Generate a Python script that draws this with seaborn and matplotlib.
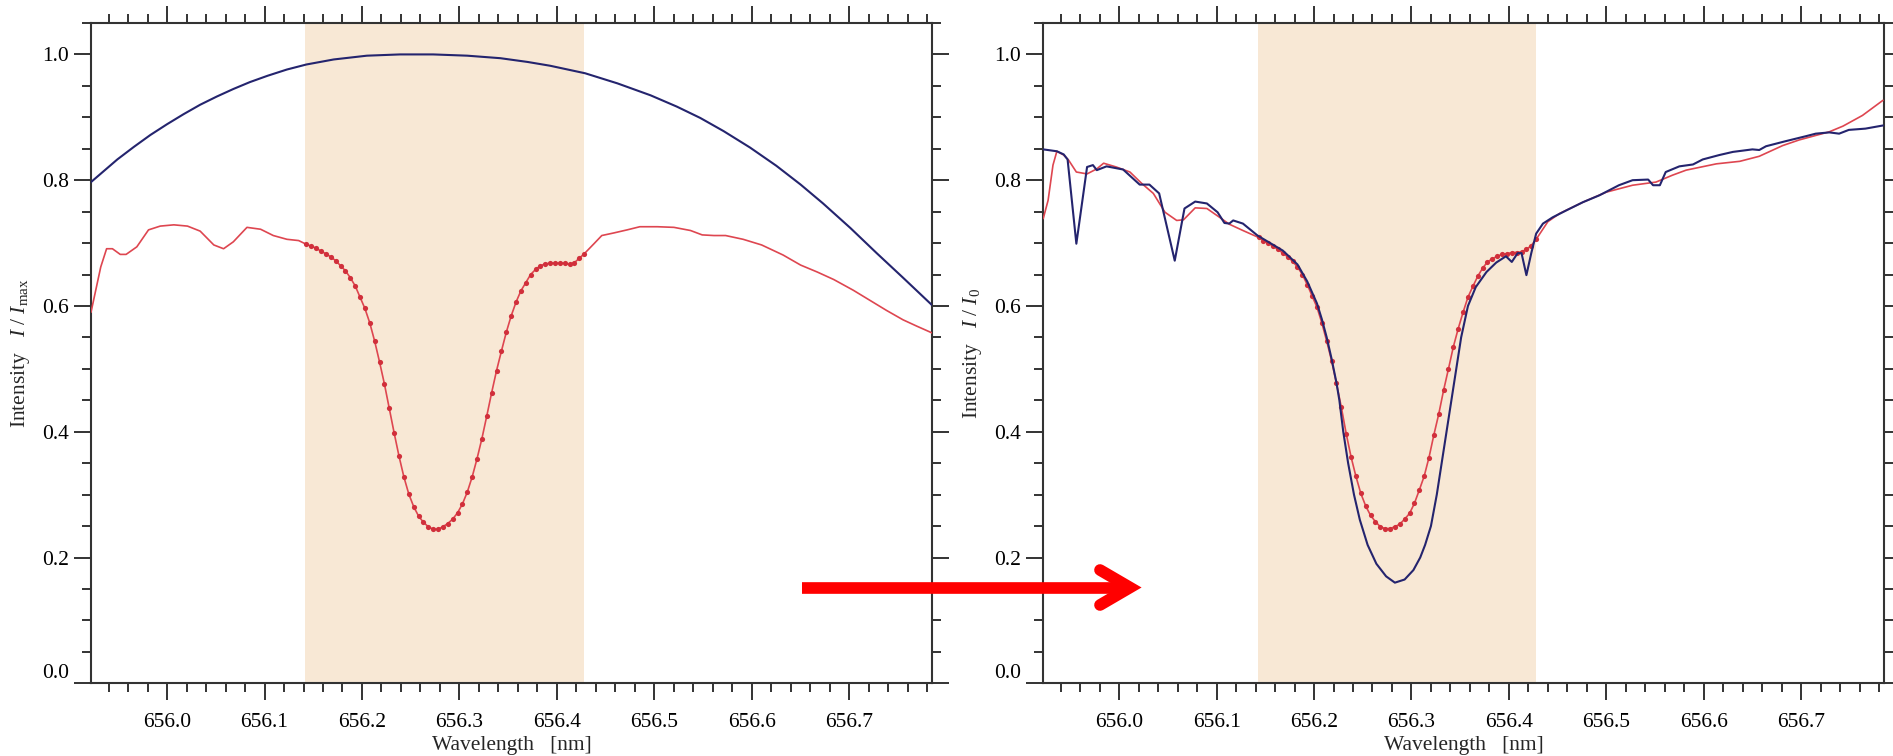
import numpy as np
import pandas as pd
import matplotlib
matplotlib.use("Agg")
import matplotlib.pyplot as plt
import seaborn as sns
from matplotlib.ticker import MultipleLocator, FormatStrFormatter
from matplotlib.lines import Line2D

# wavelength range shown in both panels and the shaded fitting window
wl_min, wl_max = 655.922, 656.785
band_lo, band_hi = 656.142, 656.428

# left panel: smooth continuum (navy)
left_blue_wl = [655.922, 655.949, 655.966, 655.983, 656.000, 656.017, 656.034, 656.051,
                656.068, 656.085, 656.103, 656.123, 656.143, 656.171, 656.205, 656.239,
                656.273, 656.308, 656.342, 656.370, 656.393, 656.429, 656.462, 656.496,
                656.523, 656.547, 656.571, 656.598, 656.625, 656.650, 656.673, 656.701,
                656.728, 656.755, 656.785]
left_blue_val = [0.797, 0.833, 0.853, 0.872, 0.889, 0.905, 0.920, 0.933,
                 0.945, 0.956, 0.966, 0.976, 0.984, 0.992, 0.998, 1.000,
                 1.000, 0.998, 0.994, 0.988, 0.982, 0.970, 0.954, 0.935,
                 0.917, 0.899, 0.878, 0.852, 0.823, 0.793, 0.763, 0.724,
                 0.684, 0.645, 0.601]

# left panel: observed profile outside the window (red)
left_red_pre_wl = [655.922, 655.932, 655.938, 655.944, 655.952, 655.958, 655.969, 655.981,
                   655.993, 656.007, 656.021, 656.034, 656.048, 656.058, 656.068, 656.082,
                   656.096, 656.109, 656.123, 656.135]
left_red_pre_val = [0.590, 0.662, 0.691, 0.691, 0.682, 0.682, 0.694, 0.721,
                    0.727, 0.729, 0.727, 0.719, 0.697, 0.691, 0.702, 0.725,
                    0.722, 0.712, 0.706, 0.704]
left_red_post_wl = [656.438, 656.446, 656.458, 656.472, 656.485, 656.503, 656.520, 656.537,
                    656.549, 656.561, 656.573, 656.591, 656.610, 656.632, 656.650, 656.667,
                    656.684, 656.704, 656.721, 656.738, 656.755, 656.769, 656.785]
left_red_post_val = [0.699, 0.712, 0.716, 0.721, 0.726, 0.726, 0.725, 0.720,
                     0.713, 0.712, 0.712, 0.706, 0.697, 0.681, 0.665, 0.654,
                     0.642, 0.625, 0.609, 0.593, 0.578, 0.568, 0.557]

# sampled points inside the window (red dots)
core_wl = [656.143, 656.148, 656.153, 656.158, 656.163, 656.168, 656.173, 656.178, 656.183, 656.188,
           656.193, 656.198, 656.203, 656.208, 656.213, 656.218, 656.223, 656.228, 656.233, 656.238,
           656.243, 656.248, 656.253, 656.258, 656.263, 656.268, 656.273, 656.278, 656.283, 656.288,
           656.293, 656.298, 656.303, 656.308, 656.313, 656.318, 656.323, 656.328, 656.333, 656.338,
           656.343, 656.348, 656.353, 656.358, 656.363, 656.368, 656.373, 656.378, 656.383, 656.388,
           656.393, 656.398, 656.403, 656.408, 656.413, 656.418, 656.423, 656.428]
left_core_val = [0.698, 0.695, 0.692, 0.687, 0.683, 0.678, 0.672, 0.664, 0.656, 0.645,
                 0.632, 0.614, 0.596, 0.573, 0.544, 0.511, 0.476, 0.437, 0.398, 0.361,
                 0.328, 0.301, 0.281, 0.266, 0.256, 0.249, 0.245, 0.245, 0.249, 0.254,
                 0.261, 0.271, 0.285, 0.304, 0.328, 0.357, 0.389, 0.425, 0.462, 0.497,
                 0.528, 0.558, 0.584, 0.606, 0.624, 0.637, 0.650, 0.658, 0.664, 0.667,
                 0.668, 0.668, 0.668, 0.668, 0.666, 0.669, 0.676, 0.683]
right_core_val = [0.709, 0.704, 0.700, 0.695, 0.690, 0.684, 0.678, 0.671, 0.662, 0.650,
                  0.634, 0.616, 0.598, 0.573, 0.544, 0.513, 0.477, 0.439, 0.397, 0.360,
                  0.329, 0.302, 0.282, 0.267, 0.257, 0.249, 0.246, 0.246, 0.249, 0.253,
                  0.261, 0.270, 0.286, 0.307, 0.329, 0.359, 0.395, 0.428, 0.466, 0.500,
                  0.535, 0.564, 0.590, 0.614, 0.631, 0.647, 0.660, 0.670, 0.675, 0.679,
                  0.682, 0.683, 0.685, 0.685, 0.686, 0.690, 0.696, 0.706]

# right panel: normalised observed profile outside the window (red)
right_red_pre_wl = [655.922, 655.927, 655.932, 655.936, 655.943, 655.948, 655.956, 655.967,
                    655.977, 655.984, 655.997, 656.011, 656.023, 656.035, 656.047, 656.059,
                    656.066, 656.078, 656.090, 656.103, 656.113, 656.127]
right_red_pre_val = [0.739, 0.768, 0.824, 0.846, 0.840, 0.832, 0.813, 0.810,
                     0.818, 0.827, 0.821, 0.813, 0.795, 0.779, 0.749, 0.736,
                     0.737, 0.756, 0.755, 0.741, 0.730, 0.720]
right_red_post_wl = [656.440, 656.452, 656.476, 656.500, 656.527, 656.551, 656.568, 656.582,
                     656.613, 656.637, 656.657, 656.681, 656.698, 656.729, 656.743, 656.763,
                     656.784]
right_red_post_val = [0.734, 0.747, 0.765, 0.781, 0.792, 0.797, 0.808, 0.816,
                      0.826, 0.830, 0.838, 0.855, 0.864, 0.877, 0.886, 0.903,
                      0.927]

# right panel: reference atlas spectrum (navy)
right_blue_wl = [655.922, 655.936, 655.943, 655.947, 655.956, 655.967, 655.973, 655.977,
                 655.987, 656.004, 656.021, 656.031, 656.041, 656.057, 656.067, 656.078,
                 656.090, 656.101, 656.108, 656.113, 656.117, 656.127, 656.142, 656.168,
                 656.183, 656.193, 656.203, 656.208, 656.213, 656.218, 656.223, 656.226,
                 656.230, 656.235, 656.241, 656.247, 656.255, 656.264, 656.274, 656.283,
                 656.293, 656.302, 656.309, 656.314, 656.320, 656.326, 656.331, 656.336,
                 656.341, 656.346, 656.351, 656.358, 656.366, 656.377, 656.387, 656.397,
                 656.403, 656.409, 656.413, 656.418, 656.423, 656.428, 656.435, 656.445,
                 656.459, 656.476, 656.493, 656.513, 656.527, 656.543, 656.548, 656.555,
                 656.561, 656.575, 656.589, 656.599, 656.616, 656.630, 656.650, 656.657,
                 656.664, 656.684, 656.705, 656.715, 656.729, 656.739, 656.749, 656.766,
                 656.784]
right_blue_val = [0.849, 0.846, 0.841, 0.833, 0.699, 0.821, 0.824, 0.816,
                  0.822, 0.817, 0.793, 0.793, 0.779, 0.672, 0.755, 0.766,
                  0.763, 0.749, 0.732, 0.731, 0.736, 0.731, 0.712, 0.688,
                  0.666, 0.639, 0.604, 0.579, 0.550, 0.516, 0.478, 0.450,
                  0.400, 0.350, 0.300, 0.260, 0.220, 0.190, 0.170, 0.160,
                  0.165, 0.180, 0.200, 0.220, 0.250, 0.300, 0.350, 0.400,
                  0.450, 0.500, 0.550, 0.600, 0.630, 0.654, 0.669, 0.679,
                  0.670, 0.684, 0.684, 0.649, 0.684, 0.715, 0.731, 0.741,
                  0.752, 0.765, 0.776, 0.792, 0.800, 0.801, 0.792, 0.792,
                  0.813, 0.822, 0.825, 0.833, 0.840, 0.845, 0.849, 0.848,
                  0.854, 0.862, 0.870, 0.874, 0.876, 0.874, 0.880, 0.882,
                  0.887]

RED_LINE = "#de4650"
RED_DOT = "#d12f3b"
NAVY = "#24246e"
BAND = "#f8e8d5"
AXIS = "#333333"

sns.set_style("ticks")
plt.rcParams["font.family"] = ["Liberation Serif", "DejaVu Serif"]
plt.rcParams["mathtext.fontset"] = "custom"
plt.rcParams["mathtext.rm"] = "Liberation Serif"
plt.rcParams["mathtext.it"] = "Liberation Serif:italic"
plt.rcParams["mathtext.bf"] = "Liberation Serif:bold"

fig = plt.figure(figsize=(18.93, 7.56), dpi=100)
ax_l = fig.add_axes([0.04807, 0.0962, 0.4444, 0.8734])
ax_r = fig.add_axes([0.5511, 0.0962, 0.4441, 0.8734])


def red_profile(pre_wl, pre_val, core_val, post_wl, post_val):
    return pd.DataFrame({
        "wl": list(pre_wl) + core_wl + list(post_wl),
        "val": list(pre_val) + list(core_val) + list(post_val),
    })


def style_axes(ax, ylabel):
    ax.axvspan(band_lo, band_hi, color=BAND, lw=0, zorder=0)
    ax.set_xlim(wl_min, wl_max)
    ax.set_ylim(0, 1.05)
    ax.xaxis.set_major_locator(MultipleLocator(0.1))
    ax.xaxis.set_minor_locator(MultipleLocator(0.02))
    ax.yaxis.set_major_locator(MultipleLocator(0.2))
    ax.yaxis.set_minor_locator(MultipleLocator(0.05))
    ax.xaxis.set_major_formatter(FormatStrFormatter("%.1f"))
    ax.yaxis.set_major_formatter(FormatStrFormatter("%.1f"))
    ax.tick_params(which="both", direction="out", top=True, right=True,
                   width=1.4, color=AXIS, labelcolor="black", labelsize=15.5)
    ax.tick_params(which="major", length=12.5)
    ax.tick_params(which="minor", length=6.5)
    ax.tick_params(axis="x", pad=9)
    ax.tick_params(axis="y", pad=3.5)
    for sp in ax.spines.values():
        sp.set_visible(True)
        sp.set_linewidth(1.5)
        sp.set_color(AXIS)
    ax.set_xlabel("Wavelength   [nm]", fontsize=15.5, labelpad=3)
    ax.set_ylabel(ylabel, fontsize=15.5)
    ax.yaxis.set_label_coords(-0.0705, 0.5)


# left panel
left_red = red_profile(left_red_pre_wl, left_red_pre_val, left_core_val,
                       left_red_post_wl, left_red_post_val)
sns.lineplot(data=left_red, x="wl", y="val", ax=ax_l, color=RED_LINE, lw=1.2,
             estimator=None, sort=False, zorder=3)
sns.scatterplot(x=core_wl, y=left_core_val, ax=ax_l, color=RED_DOT, s=14,
                linewidth=0, zorder=4)
sns.lineplot(x=left_blue_wl, y=left_blue_val, ax=ax_l, color=NAVY, lw=1.5,
             estimator=None, sort=False, zorder=5)
style_axes(ax_l, r"Intensity   $I\ /\ I_{\rm max}$")

# right panel
right_red = red_profile(right_red_pre_wl, right_red_pre_val, right_core_val,
                        right_red_post_wl, right_red_post_val)
sns.lineplot(data=right_red, x="wl", y="val", ax=ax_r, color=RED_LINE, lw=1.2,
             estimator=None, sort=False, zorder=3)
sns.scatterplot(x=core_wl, y=right_core_val, ax=ax_r, color=RED_DOT, s=14,
                linewidth=0, zorder=4)
sns.lineplot(x=right_blue_wl, y=right_blue_val, ax=ax_r, color=NAVY, lw=1.5,
             estimator=None, sort=False, zorder=5)
style_axes(ax_r, r"Intensity   $I\ /\ I_0$")

# big red arrow between the panels (figure pixel positions)
W, H = 1893.0, 756.0
def fx(px):
    return px / W
def fy(py):
    return 1 - py / H

shaft = Line2D([fx(802), fx(1130)], [fy(587.5), fy(587.5)], transform=fig.transFigure,
               color="#ff0000", lw=8.4, solid_capstyle="butt")
head = Line2D([fx(1100), fx(1130), fx(1100)], [fy(570), fy(587.5), fy(605)],
              transform=fig.transFigure, color="#ff0000", lw=8.4,
              solid_capstyle="round", solid_joinstyle="miter")
fig.add_artist(shaft)
fig.add_artist(head)

# the "0.0" label sits on top of the axis line instead of centred on it
fig.canvas.draw()
for ax in (ax_l, ax_r):
    for tick in ax.yaxis.get_major_ticks():
        if abs(tick.get_loc()) < 1e-9:
            tick.label1.set_verticalalignment("bottom")

fig.savefig("out.png", dpi=100)
